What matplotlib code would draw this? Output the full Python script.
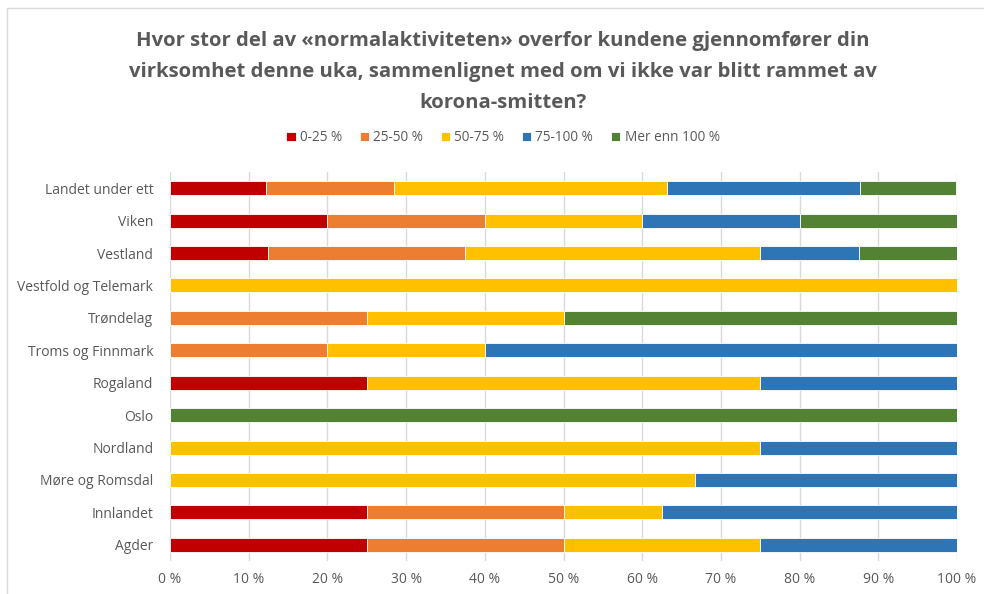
import matplotlib.pyplot as plt
import matplotlib.patches as mpatches
import numpy as np

plt.rcParams['font.family'] = ['Open Sans', 'DejaVu Sans']

# regions, bottom to top as drawn
regions = ["Agder", "Innlandet", "Møre og Romsdal", "Nordland", "Oslo", "Rogaland",
           "Troms og Finnmark", "Trøndelag", "Vestfold og Telemark", "Vestland",
           "Viken", "Landet under ett"]

s_0_25 = [25, 25, 0, 0, 0, 25, 0, 0, 0, 12.5, 20, 12.2]
s_25_50 = [25, 25, 0, 0, 0, 0, 20, 25, 0, 25, 20, 16.3]
s_50_75 = [25, 12.5, 66.7, 75, 0, 50, 20, 25, 100, 37.5, 20, 34.7]
s_75_100 = [25, 37.5, 33.3, 25, 0, 25, 60, 0, 0, 12.5, 20, 24.5]
s_over = [0, 0, 0, 0, 100, 0, 0, 50, 0, 12.5, 20, 12.2]

labels = ["0-25 %", "25-50 %", "50-75 %", "75-100 %", "Mer enn 100 %"]
colors = ["#C00000", "#ED7D31", "#FFC000", "#2E75B6", "#548235"]

title = ("Hvor stor del av «normalaktiviteten» overfor kundene gjennomfører din\n"
         "virksomhet denne uka, sammenlignet med om vi ikke var blitt rammet av\n"
         "korona-smitten?")

fig = plt.figure(figsize=(9.84, 5.94), dpi=100)
ax = fig.add_axes([170/984, 1-561/594, 787/984, 389/594])

# chart frame like the excel border
fig.patches.append(mpatches.Rectangle((7/984, -0.1), 1.2, 1 - 8/594 + 0.1,
                                      transform=fig.transFigure, fill=False,
                                      edgecolor="#D9D9D9", linewidth=1))

y = np.arange(len(regions))
left = np.zeros(len(regions))
for vals, lab, col in zip([s_0_25, s_25_50, s_50_75, s_75_100, s_over], labels, colors):
    ax.barh(y, vals, left=left, height=0.43, color=col, label=lab, zorder=3,
            edgecolor="white", linewidth=0.6)
    left += np.array(vals)

ax.set_xlim(0, 100)
ax.set_ylim(-0.5, len(regions) - 0.5)
ax.set_xticks(np.arange(0, 101, 10))
ax.set_xticklabels([f"{v} %" for v in range(0, 101, 10)])
ax.set_yticks(y)
ax.set_yticklabels(regions)
ax.grid(axis="x", color="#D9D9D9", linewidth=1, zorder=0)
for s in ax.spines.values():
    s.set_visible(False)
ax.tick_params(axis="both", length=0, colors="#595959", labelsize=10)
ax.tick_params(axis="x", pad=8)
ax.tick_params(axis="y", pad=12)

fig.text(0.511, 1 - 31/594, title, ha="center", va="top", fontsize=14.6,
         fontweight="bold", color="#595959", linespacing=1.72)

fig.legend(loc="center", bbox_to_anchor=(0.511, 1 - 138/594), ncol=5, frameon=False,
           fontsize=9.8, handlelength=0.7, handleheight=0.7, handletextpad=0.3,
           columnspacing=1.3, labelcolor="#595959")

fig.savefig("out.png", dpi=100)
